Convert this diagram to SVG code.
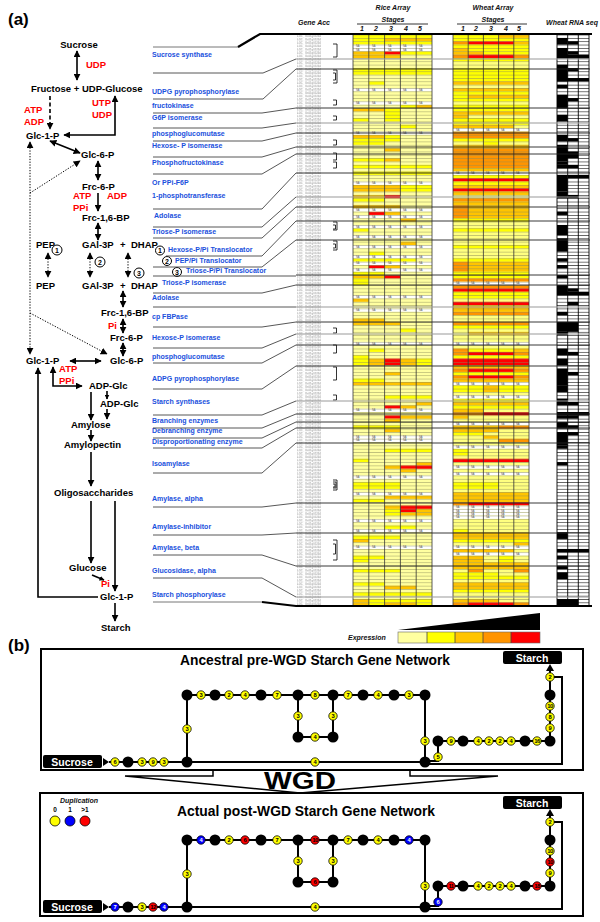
<svg xmlns="http://www.w3.org/2000/svg" width="600" height="922" viewBox="0 0 600 922">
<style>
text{font-family:"Liberation Sans",Arial,sans-serif;font-weight:bold}
.m{font-size:9.5px;fill:#000}
.rd{fill:#f00}
.gn{font-size:7px;fill:#1a50dd}
.hd{font-size:7px;font-style:italic;fill:#111}
.P{fill:#ffffa0}.Y{fill:#ffff00}.G{fill:#ffc400}.O{fill:#ff9400}.R{fill:#ff0000}.K{fill:#000}
.na{font-size:2.6px;fill:#555;font-weight:normal}
.bk{fill:#000}
.ny circle{fill:#ffff00;stroke:#000;stroke-width:.8}
.nb circle{fill:#0000ff;stroke:#000;stroke-width:.8}
.nr circle{fill:#ff0000;stroke:#000;stroke-width:.8}
.ny text,.nr text,.nb text{font-size:5.8px;text-anchor:middle;fill:#000}
.nb text{fill:#fff}
.box{fill:#000}
.bt{font-size:10.5px;fill:#fff;text-anchor:middle}
.ci{fill:#fff;stroke:#000;stroke-width:1}
.cn{font-size:7px;text-anchor:middle}
</style>
<defs>
<marker id="ah" viewBox="0 0 10 10" refX="9" refY="5" markerWidth="7" markerHeight="7" markerUnits="userSpaceOnUse" orient="auto-start-reverse"><path d="M0,0 L10,5 L0,10 z" fill="#000"/></marker>
<marker id="as" viewBox="0 0 10 10" refX="9" refY="5" markerWidth="5" markerHeight="5" markerUnits="userSpaceOnUse" orient="auto-start-reverse"><path d="M0,0 L10,5 L0,10 z" fill="#000"/></marker>
<pattern id="rowL" patternUnits="userSpaceOnUse" x="0" y="34.6" width="20" height="3.34"><rect width="20" height="0.45" fill="#8c8c5a"/></pattern>
<pattern id="rowK" patternUnits="userSpaceOnUse" x="0" y="34.6" width="20" height="3.34"><rect width="20" height="0.55" fill="#000"/></pattern>
<pattern id="acc" patternUnits="userSpaceOnUse" x="296" y="34.6" width="40" height="3.34"><text x="1" y="2.9" font-size="2.7" fill="#a8a8a8" font-weight="normal">LOC_</text><text x="9" y="2.9" font-size="2.7" fill="#a8a8a8" font-weight="normal">Os01g01234</text></pattern>
<g id="naR"><rect x="353" y="0" width="79" height="3.34" fill="#fff"/><text class="na" x="356" y="2.7">NA</text><text class="na" x="372" y="2.7">NA</text><text class="na" x="388" y="2.7">NA</text><text class="na" x="403" y="2.7">NA</text><text class="na" x="419" y="2.7">NA</text></g>
<g id="naW"><rect x="453" y="0" width="76" height="3.34" fill="#fff"/><text class="na" x="456" y="2.7">NA</text><text class="na" x="471" y="2.7">NA</text><text class="na" x="486" y="2.7">NA</text><text class="na" x="501" y="2.7">NA</text><text class="na" x="516" y="2.7">NA</text></g>
<g id="skel" fill="none" stroke="#000" stroke-width="2">
<path d="M109,762H187M187,762V695H425V762H187M298,695V737H333V695M425,761H438V741H550V668M425,764H562V677H550"/>
</g>
</defs>
<rect width="600" height="922" fill="#fff"/>

<text x="8" y="25" font-size="17">(a)</text>

<!-- pathway -->
<g id="pathway">
<g id="p-sucrose"><text class="m" x="79" y="48" text-anchor="middle">Sucrose</text></g>
<g id="p-udp1"><text class="m rd" x="86" y="68">UDP</text></g>
<g id="p-fru"><text class="m" x="31" y="92">Fructose + UDP-Glucose</text></g>
<g id="p-atp1"><text class="m rd" x="24" y="113">ATP</text><text class="m rd" x="24" y="125">ADP</text></g>
<g id="p-utp"><text class="m rd" x="92" y="106">UTP</text><text class="m rd" x="92" y="118">UDP</text></g>
<g id="p-g1p1"><text class="m" x="26" y="139">Glc-1-P</text></g>
<g id="p-g6p1"><text class="m" x="81" y="158">Glc-6-P</text></g>
<g id="p-f6p1"><text class="m" x="82" y="190">Frc-6-P</text></g>
<g id="p-atp2"><text class="m rd" x="73" y="199">ATP</text><text class="m rd" x="73" y="211">PPi</text><text class="m rd" x="107" y="199">ADP</text></g>
<g id="p-fbp1"><text class="m" x="82" y="221">Frc-1,6-BP</text></g>
<g id="p-row1"><text class="m" x="36" y="248">PEP</text><text class="m" x="82" y="248">GAl-3P</text><text class="m" x="120" y="248">+</text><text class="m" x="131" y="248">DHAP</text></g>
<g id="p-row2"><text class="m" x="36" y="289">PEP</text><text class="m" x="82" y="289">GAl-3P</text><text class="m" x="120" y="289">+</text><text class="m" x="131" y="289">DHAP</text></g>
<g id="p-c1"><circle class="ci" cx="57" cy="250" r="5"/><text class="cn" x="57" y="252.5">1</text></g>
<g id="p-c2"><circle class="ci" cx="100" cy="262" r="5"/><text class="cn" x="100" y="264.5">2</text></g>
<g id="p-c3"><circle class="ci" cx="139" cy="273" r="5"/><text class="cn" x="139" y="275.5">3</text></g>
<g id="p-fbp2"><text class="m" x="101" y="316">Frc-1,6-BP</text></g>
<g id="p-pi1"><text class="m rd" x="108" y="329">Pi</text></g>
<g id="p-f6p2"><text class="m" x="110" y="341">Frc-6-P</text></g>
<g id="p-g6p2"><text class="m" x="110" y="364">Glc-6-P</text></g>
<g id="p-g1p2"><text class="m" x="26" y="364">Glc-1-P</text></g>
<g id="p-atp3"><text class="m rd" x="59" y="372">ATP</text><text class="m rd" x="59" y="384">PPi</text></g>
<g id="p-adpg1"><text class="m" x="89" y="389">ADP-Glc</text></g>
<g id="p-adpg2"><text class="m" x="100" y="407">ADP-Glc</text></g>
<g id="p-amylose"><text class="m" x="71" y="428">Amylose</text></g>
<g id="p-amylopectin"><text class="m" x="64" y="448">Amylopectin</text></g>
<g id="p-oligo"><text class="m" x="54" y="496">Oligosaccharides</text></g>
<g id="p-glucose"><text class="m" x="69" y="571">Glucose</text></g>
<g id="p-pi2"><text class="m rd" x="101" y="587">Pi</text></g>
<g id="p-g1p3"><text class="m" x="100" y="600">Glc-1-P</text></g>
<g id="p-starch"><text class="m" x="101" y="631">Starch</text></g>
</g>

<g id="pathway-arrows" stroke="#000" stroke-width="1.6" fill="none">
<line x1="77" y1="51" x2="77" y2="80" marker-start="url(#ah)" marker-end="url(#ah)"/>
<line x1="50" y1="96" x2="50" y2="129" stroke-dasharray="4 2.5" marker-end="url(#ah)"/>
<path d="M64,135H115V96" marker-start="url(#ah)" marker-end="url(#ah)"/>
<line x1="50" y1="141" x2="80" y2="153" marker-start="url(#ah)" marker-end="url(#ah)"/>
<line x1="98" y1="161" x2="98" y2="180" marker-start="url(#ah)" marker-end="url(#ah)"/>
<line x1="98" y1="193" x2="98" y2="211" marker-end="url(#ah)"/>
<line x1="98" y1="223" x2="98" y2="240" marker-start="url(#ah)" marker-end="url(#ah)"/>
<g stroke-width="1" stroke-dasharray="1.3 1.5">
<line x1="30" y1="142" x2="30" y2="354" marker-start="url(#ah)" marker-end="url(#ah)"/>
<line x1="30" y1="193" x2="80" y2="161" marker-end="url(#ah)"/>
<line x1="30" y1="313" x2="107" y2="354" marker-end="url(#ah)"/>
<line x1="48" y1="253" x2="48" y2="277" marker-start="url(#ah)" marker-end="url(#ah)"/>
<line x1="90" y1="253" x2="90" y2="277" marker-start="url(#ah)" marker-end="url(#ah)"/>
<line x1="128" y1="253" x2="128" y2="277" marker-start="url(#ah)" marker-end="url(#ah)"/>
</g>
<line x1="123" y1="291" x2="123" y2="307" marker-start="url(#ah)" marker-end="url(#ah)"/>
<line x1="123" y1="319" x2="123" y2="333" marker-start="url(#ah)" marker-end="url(#ah)"/>
<line x1="123" y1="343" x2="123" y2="356" marker-start="url(#ah)" marker-end="url(#ah)"/>
<line x1="70" y1="361" x2="101" y2="361" marker-start="url(#ah)" marker-end="url(#ah)"/>
<path d="M53,367V386H82" marker-start="url(#ah)" marker-end="url(#ah)"/>
<line x1="91" y1="392" x2="91" y2="420" marker-end="url(#ah)"/>
<line x1="107" y1="391" x2="107" y2="399" marker-end="url(#as)"/>
<line x1="107" y1="409" x2="107" y2="419" marker-end="url(#ah)"/>
<line x1="91" y1="430" x2="91" y2="441" marker-end="url(#ah)"/>
<line x1="91" y1="452" x2="91" y2="486" marker-end="url(#ah)"/>
<line x1="91" y1="501" x2="91" y2="563" marker-end="url(#ah)"/>
<line x1="115" y1="501" x2="115" y2="591" marker-end="url(#ah)"/>
<line x1="92" y1="575" x2="104" y2="580" marker-end="url(#as)"/>
<path d="M98,597H38V368" marker-end="url(#ah)"/>
<line x1="115" y1="603" x2="115" y2="621" marker-end="url(#ah)"/>
</g>

<!-- headers -->
<g id="headers">
<text class="hd" x="314" y="25" text-anchor="middle" font-size="6.5">Gene Acc</text>
<text class="hd" x="393" y="10" text-anchor="middle">Rice Array</text>
<text class="hd" x="393" y="22" text-anchor="middle">Stages</text>
<line x1="357" y1="24" x2="428" y2="24" stroke="#000" stroke-width="0.8"/>
<text class="hd" x="362" y="31" text-anchor="middle">1</text><text class="hd" x="376" y="31" text-anchor="middle">2</text><text class="hd" x="391" y="31" text-anchor="middle">3</text><text class="hd" x="406" y="31" text-anchor="middle">4</text><text class="hd" x="420" y="31" text-anchor="middle">5</text>
<text class="hd" x="493" y="10" text-anchor="middle">Wheat Array</text>
<text class="hd" x="493" y="22" text-anchor="middle">Stages</text>
<line x1="457" y1="24" x2="527" y2="24" stroke="#000" stroke-width="0.8"/>
<text class="hd" x="463" y="31" text-anchor="middle">1</text><text class="hd" x="476" y="31" text-anchor="middle">2</text><text class="hd" x="491" y="31" text-anchor="middle">3</text><text class="hd" x="506" y="31" text-anchor="middle">4</text><text class="hd" x="519" y="31" text-anchor="middle">5</text>
<text class="hd" x="572" y="25" text-anchor="middle">Wheat RNA seq</text>
</g>

<!-- gene labels -->
<g id="genes">
<text class="gn" x="152" y="57">Sucrose synthase</text>
<text class="gn" x="152" y="94">UDPG pyrophosphorylase</text>
<text class="gn" x="152" y="108">fructokinase</text>
<text class="gn" x="152" y="120">G6P isomerase</text>
<text class="gn" x="152" y="136">phosphoglucomutase</text>
<text class="gn" x="152" y="148">Hexose- P isomerase</text>
<text class="gn" x="152" y="165">Phosphofructokinase</text>
<text class="gn" x="152" y="185">Or PPi-F6P</text>
<text class="gn" x="152" y="198">1-phosphotransferase</text>
<text class="gn" x="154" y="218">Adolase</text>
<text class="gn" x="152" y="234">Triose-P isomerase</text>
<g id="g-t1"><circle class="ci" cx="160" cy="250.5" r="4.5"/><text class="cn" x="160" y="253">1</text><text class="gn" x="168" y="252">Hexose-P/Pi Translocator</text></g>
<g id="g-t2"><circle class="ci" cx="167" cy="261" r="4.5"/><text class="cn" x="167" y="263.5">2</text><text class="gn" x="175" y="263">PEP/Pi Translocator</text></g>
<g id="g-t3"><circle class="ci" cx="177" cy="272" r="4.5"/><text class="cn" x="177" y="274.5">3</text><text class="gn" x="186" y="273">Triose-P/Pi Translocator</text></g>
<text class="gn" x="162" y="285">Triose-P isomerase</text>
<text class="gn" x="152" y="300">Adolase</text>
<text class="gn" x="152" y="319">cp FBPase</text>
<text class="gn" x="152" y="340">Hexose-P isomerase</text>
<text class="gn" x="152" y="359">phosphoglucomutase</text>
<text class="gn" x="152" y="381">ADPG pyrophosphorylase</text>
<text class="gn" x="152" y="404">Starch synthases</text>
<text class="gn" x="152" y="423">Branching enzymes</text>
<text class="gn" x="152" y="433">Debranching enzyme</text>
<text class="gn" x="152" y="444">Disproportionating enzyme</text>
<text class="gn" x="152" y="466">Isoamylase</text>
<text class="gn" x="152" y="501">Amylase, alpha</text>
<text class="gn" x="152" y="529">Amylase-inhibitor</text>
<text class="gn" x="152" y="550">Amylase, beta</text>
<text class="gn" x="152" y="573">Glucosidase, alpha</text>
<text class="gn" x="152" y="597">Starch phosphorylase</text>
</g>

<!-- heatmap -->
<g id="heatmap">
<rect x="296" y="34.6" width="36" height="571" fill="url(#acc)"/>
<g transform="translate(0,34.6) scale(1,3.34)">
<rect class="P" x="353" y="0" width="79" height="171"/>
<rect fill="#ffff80" x="453" y="0" width="76" height="171"/>
<rect fill="#fff" x="557" y="0" width="32" height="171"/>
<!-- rice -->
<rect class="Y" x="353" y="0" width="79" height="1"/>
<rect class="Y" x="353" y="1" width="31.6" height="1"/><rect class="G" x="384.6" y="1" width="47.4" height="1"/>
<rect class="Y" x="353" y="2" width="79" height="1"/>
<rect class="G" x="353" y="5" width="31.6" height="1"/><rect class="R" x="384.6" y="5" width="15.8" height="1"/><rect class="Y" x="400.4" y="5" width="31.6" height="1"/>
<rect class="G" x="353" y="6" width="47.4" height="1"/>
<rect class="Y" x="353" y="10" width="79" height="2"/>
<rect class="Y" x="368.8" y="14" width="15.8" height="1"/>
<rect class="Y" x="400.4" y="21" width="15.8" height="1"/><rect class="G" x="416.2" y="21" width="15.8" height="1"/>
<rect class="G" x="353" y="22" width="31.6" height="1"/><rect class="Y" x="384.6" y="22" width="15.8" height="4"/>
<rect class="Y" x="353" y="25" width="15.8" height="1"/>
<rect class="Y" x="400.4" y="27" width="15.8" height="1"/>
<rect class="G" x="353" y="30" width="31.6" height="1"/><rect class="Y" x="384.6" y="30" width="15.8" height="1"/>
<rect class="Y" x="353" y="31" width="47.4" height="1"/>
<rect class="Y" x="353" y="32" width="31.6" height="1"/>
<rect class="G" x="384.6" y="34" width="15.8" height="1"/>
<rect class="Y" x="353" y="37" width="31.6" height="1"/><rect class="G" x="384.6" y="37" width="15.8" height="1"/>
<rect class="Y" x="353" y="39" width="79" height="1"/>
<rect class="Y" x="353" y="41" width="79" height="1"/>
<rect class="G" x="353" y="45" width="47.4" height="2"/><rect class="Y" x="400.4" y="45" width="31.6" height="2"/>
<rect class="G" x="353" y="48" width="31.6" height="1"/><rect class="R" x="384.6" y="48" width="15.8" height="1"/>
<rect class="Y" x="353" y="49" width="31.6" height="1"/>
<rect class="G" x="353" y="51" width="47.4" height="1"/>
<rect class="R" x="368.8" y="53" width="15.8" height="1"/><rect class="G" x="384.6" y="53" width="15.8" height="1"/>
<rect class="G" x="400.4" y="55" width="15.8" height="1"/>
<rect class="Y" x="353" y="58" width="15.8" height="1"/>
<rect class="G" x="400.4" y="62" width="15.8" height="1"/>
<rect class="Y" x="368.8" y="65" width="15.8" height="1"/>
<rect class="Y" x="353" y="67" width="63.2" height="1"/>
<rect class="R" x="368.8" y="69" width="15.8" height="1"/><rect class="G" x="384.6" y="69" width="15.8" height="1"/>
<rect class="Y" x="353" y="71" width="31.6" height="1"/>
<rect class="G" x="353" y="72" width="31.6" height="1"/><rect class="R" x="384.6" y="72" width="15.8" height="1"/>
<rect class="Y" x="353" y="73" width="15.8" height="2"/>
<rect class="G" x="353" y="79" width="15.8" height="1"/>
<rect class="G" x="353" y="85" width="31.6" height="1"/>
<rect class="G" x="353" y="86" width="47.4" height="1"/>
<rect class="Y" x="400.4" y="88" width="15.8" height="1"/>
<rect class="Y" x="368.8" y="94" width="15.8" height="1"/>
<rect class="Y" x="353" y="96" width="15.8" height="3"/><rect class="G" x="368.8" y="97" width="15.8" height="2"/><rect class="R" x="384.6" y="97" width="15.8" height="2"/><rect class="G" x="400.4" y="97" width="15.8" height="2"/><rect class="Y" x="416.2" y="97" width="15.8" height="2"/>
<rect class="G" x="384.6" y="101" width="15.8" height="1"/>
<rect class="Y" x="353" y="103" width="31.6" height="1"/>
<rect class="G" x="353" y="104" width="79" height="1"/>
<rect class="Y" x="384.6" y="108" width="47.4" height="1"/>
<rect class="G" x="416.2" y="110" width="15.8" height="1"/>
<rect class="R" x="384.6" y="111" width="15.8" height="1"/><rect class="G" x="400.4" y="111" width="15.8" height="1"/>
<rect class="R" x="384.6" y="114" width="15.8" height="1"/><rect class="G" x="400.4" y="114" width="31.6" height="1"/>
<rect class="G" x="384.6" y="115" width="15.8" height="1"/>
<rect class="Y" x="353" y="117" width="47.4" height="1"/>
<rect class="G" x="384.6" y="118" width="15.8" height="1"/>
<rect class="Y" x="384.6" y="124" width="47.4" height="1"/>
<rect class="Y" x="353" y="127" width="15.8" height="1"/>
<rect class="G" x="416.2" y="128" width="15.8" height="1"/>
<rect class="G" x="384.6" y="129" width="15.8" height="1"/><rect class="R" x="400.4" y="129" width="31.6" height="1"/>
<rect class="G" x="400.4" y="130" width="15.8" height="1"/>
<rect class="Y" x="353" y="134" width="47.4" height="2"/>
<rect class="G" x="384.6" y="138" width="47.4" height="1"/>
<rect class="Y" x="353" y="139" width="31.6" height="1"/>
<rect class="G" x="384.6" y="141" width="15.8" height="1"/><rect class="R" x="400.4" y="141" width="31.6" height="1"/>
<rect class="Y" x="384.6" y="142" width="15.8" height="1"/><rect class="R" x="400.4" y="142" width="15.8" height="1"/><rect class="G" x="416.2" y="142" width="15.8" height="1"/>
<rect class="Y" x="384.6" y="143" width="15.8" height="1"/><rect class="G" x="400.4" y="143" width="31.6" height="1"/>
<rect class="Y" x="384.6" y="147" width="31.6" height="1"/>
<rect class="Y" x="353" y="150" width="47.4" height="1"/>
<rect class="G" x="353" y="151" width="15.8" height="1"/>
<rect class="Y" x="353" y="156" width="31.6" height="1"/>
<rect class="Y" x="353" y="157" width="15.8" height="1"/>
<rect class="Y" x="353" y="160" width="47.4" height="1"/>
<rect class="Y" x="353" y="164" width="31.6" height="1"/>
<rect class="G" x="384.6" y="165" width="31.6" height="1"/>
<rect class="Y" x="353" y="167" width="79" height="1"/>
<rect class="G" x="353" y="169" width="15.8" height="1"/><rect class="Y" x="368.8" y="169" width="63.2" height="1"/>
<rect class="G" x="353" y="170" width="15.8" height="1"/><rect class="Y" x="368.8" y="170" width="15.8" height="1"/><rect class="G" x="384.6" y="170" width="31.6" height="1"/><rect class="Y" x="416.2" y="170" width="15.8" height="1"/>
<!-- wheat -->
<rect class="Y" x="453" y="0" width="45.6" height="1"/><rect class="G" x="498.6" y="0" width="30.4" height="1"/>
<rect class="Y" x="453" y="1" width="76" height="1"/>
<rect class="O" x="453" y="2" width="15.2" height="1"/><rect class="R" x="468.2" y="2" width="45.6" height="1"/><rect class="G" x="513.8" y="2" width="15.2" height="1"/>
<rect class="Y" x="453" y="3" width="76" height="1"/>
<rect class="G" x="453" y="4" width="15.2" height="1"/><rect class="Y" x="468.2" y="4" width="60.8" height="1"/>
<rect class="G" x="453" y="5" width="30.4" height="1"/><rect class="Y" x="483.4" y="5" width="45.6" height="1"/>
<rect class="O" x="453" y="6" width="15.2" height="1"/><rect class="R" x="468.2" y="6" width="45.6" height="1"/><rect class="O" x="513.8" y="6" width="15.2" height="1"/>
<rect class="Y" x="453" y="7" width="76" height="1"/>
<rect class="Y" x="453" y="10" width="76" height="4"/>
<rect class="G" x="453" y="14" width="76" height="1"/>
<rect class="G" x="453" y="16" width="76" height="1"/>
<rect class="Y" x="453" y="17" width="76" height="1"/>
<rect class="Y" x="453" y="18" width="15.2" height="1"/><rect class="G" x="468.2" y="18" width="60.8" height="1"/>
<rect class="Y" x="453" y="19" width="76" height="1"/>
<rect class="Y" x="453" y="21" width="76" height="2"/>
<rect class="G" x="453" y="23" width="76" height="1"/>
<rect class="G" x="453" y="24" width="15.2" height="1"/>
<rect class="Y" x="453" y="25" width="76" height="2"/>
<rect class="G" x="453" y="27" width="60.8" height="1"/>
<rect class="O" x="453" y="29" width="76" height="2"/>
<rect class="Y" x="453" y="31" width="76" height="1"/>
<rect class="Y" x="483.4" y="32" width="15.2" height="1"/>
<rect class="G" x="453" y="33" width="76" height="1"/>
<rect class="O" x="453" y="34" width="76" height="6"/>
<rect class="G" x="453" y="40" width="76" height="1"/>
<rect class="Y" x="453" y="42" width="76" height="1"/>
<rect class="R" x="453" y="43" width="76" height="1"/>
<rect class="Y" x="453" y="44" width="76" height="1"/>
<rect class="G" x="453" y="45" width="76" height="1"/>
<rect class="R" x="453" y="46" width="76" height="1"/>
<rect class="G" x="453" y="47" width="76" height="1"/>
<rect class="O" x="453" y="49" width="76" height="1"/>
<rect class="G" x="453" y="50" width="76" height="1"/>
<rect class="O" x="453" y="51" width="15.2" height="4"/><rect class="G" x="468.2" y="51" width="60.8" height="4"/>
<rect class="Y" x="453" y="55" width="76" height="1"/>
<rect class="Y" x="453" y="58" width="76" height="1"/>
<rect class="Y" x="453" y="63" width="76" height="1"/>
<rect class="Y" x="453" y="67" width="76" height="1"/>
<rect class="O" x="453" y="68" width="15.2" height="3"/><rect class="G" x="468.2" y="68" width="60.8" height="3"/>
<rect class="Y" x="453" y="71" width="76" height="2"/>
<rect class="O" x="453" y="73" width="76" height="1"/>
<rect class="O" x="453" y="75" width="76" height="1"/>
<rect class="R" x="453" y="76" width="76" height="1"/>
<rect class="Y" x="453" y="77" width="76" height="2"/>
<rect class="R" x="453" y="80" width="76" height="1"/>
<rect class="G" x="453" y="81" width="76" height="2"/>
<rect class="O" x="453" y="83" width="76" height="1"/>
<rect class="O" x="453" y="86" width="76" height="1"/>
<rect class="Y" x="453" y="87" width="76" height="1"/>
<rect class="G" x="468.2" y="89" width="60.8" height="1"/>
<rect class="O" x="453" y="94" width="15.2" height="1"/><rect class="Y" x="468.2" y="94" width="45.6" height="1"/><rect class="G" x="513.8" y="94" width="15.2" height="1"/>
<rect class="O" x="453" y="95" width="15.2" height="1"/><rect class="R" x="468.2" y="95" width="45.6" height="1"/><rect class="O" x="513.8" y="95" width="15.2" height="1"/>
<rect class="Y" x="453" y="96" width="76" height="1"/>
<rect class="R" x="453" y="97" width="76" height="2"/>
<rect class="G" x="453" y="99" width="76" height="1"/>
<rect class="O" x="453" y="100" width="15.2" height="1"/><rect class="R" x="468.2" y="100" width="45.6" height="1"/><rect class="O" x="513.8" y="100" width="15.2" height="1"/>
<rect class="Y" x="453" y="101" width="76" height="1"/>
<rect class="O" x="453" y="102" width="15.2" height="1"/><rect class="R" x="468.2" y="102" width="45.6" height="1"/><rect class="O" x="513.8" y="102" width="15.2" height="1"/>
<rect class="G" x="453" y="103" width="76" height="1"/>
<rect class="Y" x="453" y="105" width="76" height="2"/><rect class="G" x="483.4" y="105" width="15.2" height="2"/>
<rect class="Y" x="453" y="109" width="76" height="1"/>
<rect class="G" x="453" y="110" width="76" height="1"/>
<rect class="Y" x="453" y="111" width="76" height="1"/>
<rect class="G" x="453" y="112" width="30.4" height="1"/>
<rect class="O" x="453" y="113" width="30.4" height="1"/><rect class="R" x="483.4" y="113" width="45.6" height="1"/>
<rect class="G" x="453" y="114" width="15.2" height="1"/>
<rect class="G" x="453" y="117" width="45.6" height="2"/><rect class="O" x="498.6" y="117" width="30.4" height="1"/>
<rect class="Y" x="453" y="119" width="30.4" height="1"/>
<rect class="G" x="483.4" y="120" width="15.2" height="1"/>
<rect class="O" x="498.6" y="121" width="30.4" height="1"/>
<rect class="Y" x="453" y="124" width="15.2" height="2"/>
<rect class="R" x="453" y="127" width="76" height="1"/>
<rect class="Y" x="453" y="134" width="45.6" height="2"/>
<rect class="G" x="453" y="137" width="76" height="3"/>
<rect class="O" x="453" y="140" width="15.2" height="1"/><rect class="R" x="468.2" y="140" width="60.8" height="1"/>
<rect class="Y" x="453" y="148" width="15.2" height="1"/>
<rect class="G" x="453" y="149" width="76" height="2"/>
<rect class="Y" x="453" y="151" width="76" height="1"/>
<rect class="G" x="513.8" y="152" width="15.2" height="1"/>
<rect class="G" x="453" y="154" width="60.8" height="1"/>
<rect class="G" x="453" y="156" width="30.4" height="2"/><rect class="Y" x="498.6" y="156" width="15.2" height="2"/>
<rect class="G" x="453" y="158" width="76" height="2"/>
<rect class="O" x="468.2" y="160" width="15.2" height="1"/><rect class="O" x="513.8" y="160" width="15.2" height="1"/>
<rect class="Y" x="453" y="161" width="45.6" height="1"/>
<rect class="Y" x="453" y="162" width="76" height="1"/>
<rect class="G" x="453" y="164" width="76" height="2"/>
<rect class="Y" x="453" y="166" width="76" height="1"/>
<rect class="G" x="453" y="169" width="45.6" height="1"/>
<rect class="O" x="453" y="170" width="15.2" height="1"/><rect class="R" x="468.2" y="170" width="45.6" height="1"/><rect class="O" x="513.8" y="170" width="15.2" height="1"/>
<!-- rna seq -->
<g class="K">
<rect x="557" y="1" width="10.7" height="2"/><rect x="567.7" y="2" width="10.6" height="1"/>
<rect x="557" y="4" width="10.7" height="3"/><rect x="567.7" y="5" width="10.6" height="1"/><rect x="557" y="6" width="32" height="1"/>
<rect x="557" y="9" width="10.7" height="5"/><rect x="567.7" y="10" width="10.6" height="1"/><rect x="557" y="13" width="32" height="1"/>
<rect x="557" y="15" width="10.7" height="1"/>
<rect x="557" y="18" width="10.7" height="4"/><rect x="567.7" y="19" width="10.6" height="1"/>
<rect x="557" y="24" width="10.7" height="2"/>
<rect x="557" y="30" width="10.7" height="2"/><rect x="567.7" y="31" width="10.6" height="1"/>
<rect x="557" y="33" width="10.7" height="5"/><rect x="557" y="35" width="21.3" height="2"/>
<rect x="557" y="38" width="10.7" height="1"/><rect x="557" y="39" width="21.3" height="1"/>
<rect x="557" y="42" width="10.7" height="5"/><rect x="567.7" y="42" width="21.3" height="1"/>
<rect x="557" y="47" width="10.7" height="2"/><rect x="567.7" y="48" width="10.6" height="1"/>
<rect x="557" y="53" width="10.7" height="1"/>
<rect x="557" y="57" width="10.7" height="3"/>
<rect x="557" y="61" width="10.7" height="4"/>
<rect x="557" y="67" width="10.7" height="1"/>
<rect x="557" y="69" width="10.7" height="1"/>
<rect x="557" y="72" width="10.7" height="1"/>
<rect x="557" y="75" width="10.7" height="3"/><rect x="567.7" y="76" width="10.6" height="1"/><rect x="557" y="77" width="32" height="1"/>
<rect x="567.7" y="80" width="10.6" height="1"/>
<rect x="557" y="83" width="10.7" height="1"/>
<rect x="557" y="86" width="21.3" height="3"/>
<rect x="557" y="89" width="10.7" height="1"/>
<rect x="557" y="94" width="10.7" height="2"/><rect x="567.7" y="95" width="10.6" height="1"/>
<rect x="557" y="97" width="10.7" height="2"/>
<rect x="557" y="100" width="10.7" height="5"/><rect x="567.7" y="101" width="10.6" height="1"/>
<rect x="557" y="105" width="10.7" height="2"/>
<rect x="557" y="109" width="10.7" height="2"/><rect x="567.7" y="110" width="10.6" height="1"/>
<rect x="557" y="113" width="32" height="1"/><rect x="557" y="114" width="21.3" height="1"/>
<rect x="557" y="116" width="10.7" height="2"/><rect x="567.7" y="117" width="10.6" height="1"/>
<rect x="557" y="119" width="10.7" height="4"/><rect x="567.7" y="119" width="10.6" height="1"/>
<rect x="557" y="123" width="10.7" height="1"/>
<rect x="557" y="128" width="10.7" height="1"/>
<rect x="557" y="149" width="10.7" height="2"/>
<rect x="557" y="154" width="32" height="1"/>
<rect x="557" y="156" width="10.7" height="1"/>
<rect x="557" y="159" width="10.7" height="1"/>
<rect x="557" y="161" width="10.7" height="2"/>
<rect x="557" y="169" width="21.3" height="2"/>
</g>
</g>
<!-- NA rows -->
<use href="#naR" y="44.62"/><use href="#naR" y="47.96"/><use href="#naR" y="88.04"/><use href="#naR" y="101.4"/><use href="#naR" y="131.46"/><use href="#naR" y="181.56"/><use href="#naR" y="208.28"/><use href="#naR" y="214.96"/><use href="#naR" y="224.98"/><use href="#naR" y="235"/><use href="#naR" y="245.02"/><use href="#naR" y="255.04"/><use href="#naR" y="261.72"/><use href="#naR" y="268.4"/><use href="#naR" y="295.12"/><use href="#naR" y="308.48"/><use href="#naR" y="341.88"/><use href="#naR" y="408.68"/><use href="#naR" y="435.4"/><use href="#naR" y="438.74"/><use href="#naR" y="475.48"/><use href="#naR" y="492.18"/><use href="#naR" y="518.9"/><use href="#naR" y="528.92"/><use href="#naR" y="545.62"/>
<use href="#naW" y="128.12"/><use href="#naW" y="171.54"/><use href="#naW" y="281.76"/><use href="#naW" y="341.88"/><use href="#naW" y="381.96"/><use href="#naW" y="395.32"/><use href="#naW" y="422.04"/><use href="#naW" y="445.42"/><use href="#naW" y="465.46"/><use href="#naW" y="472.14"/><use href="#naW" y="505.54"/><use href="#naW" y="508.88"/><use href="#naW" y="512.22"/><use href="#naW" y="515.56"/><use href="#naW" y="545.62"/><use href="#naW" y="552.3"/>
<!-- row lines -->
<rect x="353" y="34.6" width="79" height="571" fill="url(#rowL)"/>
<rect x="453" y="34.6" width="76" height="571" fill="url(#rowL)"/>
<rect x="557" y="34.6" width="32" height="571" fill="url(#rowK)"/>
<!-- column lines -->
<path d="M353,34V606M368.8,34V606M384.6,34V606M400.4,34V606M416.2,34V606M432,34V606M453,34V606M468.2,34V606M483.4,34V606M498.6,34V606M513.8,34V606M529,34V606" stroke="#333" stroke-width="0.8"/>
<path d="M557,34V606M567.7,34V606M578.3,34V606M589,34V606" stroke="#000" stroke-width="0.9"/>
<!-- brackets -->
<path fill="none" stroke="#000" stroke-width="0.8" d="M333,44h4v13h-4M333,70h4v13h-4M333,73h2.5v7h-2.5M333,100h3.5v5h-3.5M333,116h3.5v4h-3.5M333,140h3.5v5h-3.5M333,153h3.5v7h-3.5M333,162h3.5v6h-3.5M333,222h4v8h-4M333,225h2.5v4h-2.5M333,241h4v9h-4M333,244h2.5v4h-2.5M333,328h3.5v5h-3.5M333,345h3.5v8h-3.5M333,367h3.5v13h-3.5M333,395h3.5v5h-3.5M333,480h4v10h-4M333,482h3v6h-3M333,484h2v3h-2M333,540h4v20h-4M333,544h2.5v10h-2.5"/>
</g>

<!-- separators and leaders -->
<g id="connectors" fill="none">
<path stroke="#222" stroke-width="0.9" d="M296,69H590M296,108H590M296,133H590M296,147H590M296,154H590M296,173H590M296,207H590M296,221H590M296,240H590M296,275H590M296,285H590M296,322H590M296,345H590M296,366H590M296,414H590M296,422H590M296,428H590M296,443H590M296,503H590M296,533H590M296,566H590"/>
<path stroke="#9a9a9a" stroke-width="1.2" d="M296,59H590M296,123H590M296,197H590M296,307H590M296,334H590M296,401H590M296,597H590"/>
<path stroke="#444" stroke-width="0.9" d="M153,73H263L296,59M153,99H263L296,69M153,113H262L296,108M153,128H262L296,123M153,141H262L296,133M153,157H262L296,147M153,174H262L296,154M153,209H262L296,173M153,227H262L296,197M153,238H262L296,207M166,256H262L296,221M153,267H262L296,240M153,276H296M153,293H262L296,285M153,307H296M153,327H262L296,322M153,348H262L296,334M153,363H262L296,345M153,389H262L296,366M153,415H262L296,401M153,428H262L296,414M153,438H262L296,422M153,448H262L296,428M153,473H262L296,443M153,507H262L296,503M153,535H262L296,533M153,555H262L296,566M153,578H262L296,597"/>
<path stroke="#777" stroke-width="1" d="M153,47H238M153,602H262"/>
<path stroke="#000" stroke-width="2.2" d="M238,47L260,34H592M262,602L296,606H592"/>
</g>

<!-- expression legend -->
<g id="expr-legend">
<polygon points="398,630 540,613 540,630" fill="#000"/>
<rect class="P" x="398" y="632" width="29" height="11"/>
<rect class="Y" x="427" y="632" width="28" height="11"/>
<rect class="G" x="455" y="632" width="28" height="11"/>
<rect class="O" x="483" y="632" width="28" height="11"/>
<rect class="R" x="511" y="632" width="29" height="11"/>
<rect x="398" y="632" width="142" height="11" fill="none" stroke="#666" stroke-width="0.6"/>
<path d="M427,632V643M455,632V643M483,632V643M511,632V643" stroke="#444" stroke-width="0.8"/>
<text class="hd" x="348" y="640">Expression</text>
</g>

<text x="8" y="651" font-size="17">(b)</text>

<!-- boxes -->
<g id="frames" fill="none" stroke="#000">
<rect x="41" y="649" width="542" height="121" stroke-width="2"/>
<rect x="40" y="793" width="543" height="123" stroke-width="2"/>
<path d="M213,770V776H125L300,793L498,776H410V770" stroke-width="1.5"/>
</g>
<g id="wgd"><text x="300" y="789" font-size="23" text-anchor="middle" textLength="72" lengthAdjust="spacingAndGlyphs">WGD</text></g>
<g id="title1"><text x="180" y="665" font-size="15" textLength="270" lengthAdjust="spacingAndGlyphs">Ancestral pre-WGD Starch Gene Network</text></g>
<g id="title2"><text x="177" y="816" font-size="15" textLength="258" lengthAdjust="spacingAndGlyphs">Actual post-WGD Starch Gene Network</text></g>

<g id="dup-legend">
<text class="hd" x="60" y="803" font-size="6.5">Duplication</text>
<text x="55" y="812" font-size="6.5" text-anchor="middle">0</text><text x="70" y="812" font-size="6.5" text-anchor="middle">1</text><text x="85" y="812" font-size="6.5" text-anchor="middle">&gt;1</text>
<circle cx="55" cy="821" r="5" fill="#ffff00" stroke="#000" stroke-width="0.8"/>
<circle cx="70" cy="821" r="5" fill="#0000ff" stroke="#000" stroke-width="0.8"/>
<circle cx="85" cy="821" r="5" fill="#ff0000" stroke="#000" stroke-width="0.8"/>
</g>

<!-- network skeletons -->
<g id="net-edges">
<use href="#skel"/>
<use href="#skel" transform="translate(0,145)"/>
</g>

<!-- network 1 -->
<g id="net1">
<g id="n1-sucrose"><rect class="box" x="43" y="755" width="59" height="13" rx="2"/><text class="bt" x="72" y="765.5">Sucrose</text><polygon points="103,758 109,762 103,766" fill="#000"/></g>
<g id="n1-starch"><rect class="box" x="503" y="651" width="59" height="13" rx="2"/><text class="bt" x="532" y="661.5">Starch</text><polygon points="546,671 550,664 554,671" fill="#000"/></g>
<g id="n1-black" class="bk">
<circle cx="128" cy="762" r="5.5"/><circle cx="187" cy="762" r="5.5"/><circle cx="187" cy="695" r="5.5"/><circle cx="215" cy="695" r="5.5"/><circle cx="261" cy="695" r="5.5"/><circle cx="298" cy="695" r="5.5"/><circle cx="333" cy="695" r="5.5"/><circle cx="363" cy="695" r="5.5"/><circle cx="394" cy="695" r="5.5"/><circle cx="425" cy="695" r="5.5"/><circle cx="298" cy="737" r="5.5"/><circle cx="333" cy="737" r="5.5"/><circle cx="425" cy="762" r="5.5"/><circle cx="438" cy="741" r="5.5"/><circle cx="463" cy="741" r="5.5"/><circle cx="525" cy="741" r="5.5"/><circle cx="550" cy="741" r="5.5"/><circle cx="550" cy="695" r="5.5"/>
</g>
<g class="ny" id="n1a"><circle cx="115" cy="762" r="4.2"/><text x="115" y="764">6</text></g>
<g class="ny" id="n1b"><circle cx="142" cy="762" r="4.2"/><text x="142" y="764">3</text></g>
<g class="ny" id="n1c"><circle cx="153" cy="762" r="4.2"/><text x="153" y="764">9</text></g>
<g class="ny" id="n1d"><circle cx="164" cy="762" r="4.2"/><text x="164" y="764">3</text></g>
<g class="ny" id="n1e"><circle cx="187" cy="729" r="4.2"/><text x="187" y="731">3</text></g>
<g class="ny" id="n1f"><circle cx="201" cy="695" r="4.2"/><text x="201" y="697">3</text></g>
<g class="ny" id="n1g"><circle cx="229" cy="695" r="4.2"/><text x="229" y="697">2</text></g>
<g class="ny" id="n1h"><circle cx="245" cy="695" r="4.2"/><text x="245" y="697">4</text></g>
<g class="ny" id="n1i"><circle cx="277" cy="695" r="4.2"/><text x="277" y="697">7</text></g>
<g class="ny" id="n1j"><circle cx="315" cy="695" r="4.2"/><text x="315" y="697">8</text></g>
<g class="ny" id="n1k"><circle cx="348" cy="695" r="4.2"/><text x="348" y="697">7</text></g>
<g class="ny" id="n1l"><circle cx="378" cy="695" r="4.2"/><text x="378" y="697">4</text></g>
<g class="ny" id="n1m"><circle cx="409" cy="695" r="4.2"/><text x="409" y="697">3</text></g>
<g class="ny" id="n1n"><circle cx="298" cy="716" r="4.2"/><text x="298" y="718">3</text></g>
<g class="ny" id="n1o"><circle cx="333" cy="716" r="4.2"/><text x="333" y="718">3</text></g>
<g class="ny" id="n1p"><circle cx="315" cy="737" r="4.2"/><text x="315" y="739">4</text></g>
<g class="ny" id="n1q"><circle cx="425" cy="741" r="4.2"/><text x="425" y="743">3</text></g>
<g class="ny" id="n1r"><circle cx="315" cy="762" r="4.2"/><text x="315" y="764">4</text></g>
<g class="ny" id="n1s"><circle cx="438" cy="757" r="4.2"/><text x="438" y="759">5</text></g>
<g class="ny" id="n1t"><circle cx="451" cy="741" r="4.2"/><text x="451" y="743">9</text></g>
<g class="ny" id="n1u"><circle cx="478" cy="741" r="4.2"/><text x="478" y="743">4</text></g>
<g class="ny" id="n1v"><circle cx="489" cy="741" r="4.2"/><text x="489" y="743">2</text></g>
<g class="ny" id="n1w"><circle cx="500" cy="741" r="4.2"/><text x="500" y="743">2</text></g>
<g class="ny" id="n1x"><circle cx="511" cy="741" r="4.2"/><text x="511" y="743">4</text></g>
<g class="ny" id="n1y"><circle cx="537" cy="741" r="4.2"/><text x="537" y="743" letter-spacing="-0.5">16</text></g>
<g class="ny" id="n1z"><circle cx="550" cy="728" r="4.2"/><text x="550" y="730">9</text></g>
<g class="ny" id="n1aa"><circle cx="550" cy="717" r="4.2"/><text x="550" y="719">8</text></g>
<g class="ny" id="n1ab"><circle cx="550" cy="706" r="4.2"/><text x="550" y="708" letter-spacing="-0.5">10</text></g>
<g class="ny" id="n1ac"><circle cx="550" cy="677" r="4.2"/><text x="550" y="679">2</text></g>
</g>

<!-- network 2 -->
<g id="net2">
<g id="n2-sucrose"><rect class="box" x="43" y="900" width="59" height="13" rx="2"/><text class="bt" x="72" y="910.5">Sucrose</text><polygon points="103,903 109,907 103,911" fill="#000"/></g>
<g id="n2-starch"><rect class="box" x="503" y="796" width="59" height="13" rx="2"/><text class="bt" x="532" y="806.5">Starch</text><polygon points="546,816 550,809 554,816" fill="#000"/></g>
<g id="n2-black" class="bk">
<circle cx="128" cy="907" r="5.5"/><circle cx="187" cy="907" r="5.5"/><circle cx="187" cy="840" r="5.5"/><circle cx="215" cy="840" r="5.5"/><circle cx="261" cy="840" r="5.5"/><circle cx="298" cy="840" r="5.5"/><circle cx="333" cy="840" r="5.5"/><circle cx="363" cy="840" r="5.5"/><circle cx="394" cy="840" r="5.5"/><circle cx="425" cy="840" r="5.5"/><circle cx="298" cy="882" r="5.5"/><circle cx="333" cy="882" r="5.5"/><circle cx="425" cy="907" r="5.5"/><circle cx="438" cy="886" r="5.5"/><circle cx="463" cy="886" r="5.5"/><circle cx="525" cy="886" r="5.5"/><circle cx="550" cy="886" r="5.5"/><circle cx="550" cy="840" r="5.5"/>
</g>
<g class="nb" id="n2a"><circle cx="115" cy="907" r="4.2"/><text x="115" y="909">7</text></g>
<g class="ny" id="n2b"><circle cx="142" cy="907" r="4.2"/><text x="142" y="909">3</text></g>
<g class="nr" id="n2c"><circle cx="153" cy="907" r="4.2"/><text x="153" y="909" letter-spacing="-0.5">12</text></g>
<g class="nb" id="n2d"><circle cx="164" cy="907" r="4.2"/><text x="164" y="909">4</text></g>
<g class="ny" id="n2e"><circle cx="187" cy="874" r="4.2"/><text x="187" y="876">3</text></g>
<g class="nb" id="n2f"><circle cx="201" cy="840" r="4.2"/><text x="201" y="842">4</text></g>
<g class="ny" id="n2g"><circle cx="229" cy="840" r="4.2"/><text x="229" y="842">2</text></g>
<g class="nr" id="n2h"><circle cx="245" cy="840" r="4.2"/><text x="245" y="842">6</text></g>
<g class="ny" id="n2i"><circle cx="277" cy="840" r="4.2"/><text x="277" y="842">7</text></g>
<g class="nr" id="n2j"><circle cx="315" cy="840" r="4.2"/><text x="315" y="842" letter-spacing="-0.5">10</text></g>
<g class="ny" id="n2k"><circle cx="348" cy="840" r="4.2"/><text x="348" y="842">7</text></g>
<g class="ny" id="n2l"><circle cx="378" cy="840" r="4.2"/><text x="378" y="842">4</text></g>
<g class="nb" id="n2m"><circle cx="409" cy="840" r="4.2"/><text x="409" y="842">4</text></g>
<g class="ny" id="n2n"><circle cx="298" cy="861" r="4.2"/><text x="298" y="863">3</text></g>
<g class="ny" id="n2o"><circle cx="333" cy="861" r="4.2"/><text x="333" y="863">3</text></g>
<g class="nr" id="n2p"><circle cx="315" cy="882" r="4.2"/><text x="315" y="884">6</text></g>
<g class="ny" id="n2q"><circle cx="425" cy="886" r="4.2"/><text x="425" y="888">3</text></g>
<g class="ny" id="n2r"><circle cx="315" cy="907" r="4.2"/><text x="315" y="909">4</text></g>
<g class="nb" id="n2s"><circle cx="438" cy="902" r="4.2"/><text x="438" y="904">6</text></g>
<g class="nr" id="n2t"><circle cx="451" cy="886" r="4.2"/><text x="451" y="888" letter-spacing="-0.5">11</text></g>
<g class="ny" id="n2u"><circle cx="478" cy="886" r="4.2"/><text x="478" y="888">4</text></g>
<g class="ny" id="n2v"><circle cx="489" cy="886" r="4.2"/><text x="489" y="888">2</text></g>
<g class="ny" id="n2w"><circle cx="500" cy="886" r="4.2"/><text x="500" y="888">2</text></g>
<g class="ny" id="n2x"><circle cx="511" cy="886" r="4.2"/><text x="511" y="888">4</text></g>
<g class="nr" id="n2y"><circle cx="537" cy="886" r="4.2"/><text x="537" y="888" letter-spacing="-0.5">18</text></g>
<g class="ny" id="n2z"><circle cx="550" cy="873" r="4.2"/><text x="550" y="875">9</text></g>
<g class="nr" id="n2aa"><circle cx="550" cy="862" r="4.2"/><text x="550" y="864" letter-spacing="-0.5">10</text></g>
<g class="ny" id="n2ab"><circle cx="550" cy="851" r="4.2"/><text x="550" y="853" letter-spacing="-0.5">10</text></g>
<g class="ny" id="n2ac"><circle cx="550" cy="822" r="4.2"/><text x="550" y="824">2</text></g>
</g>
</svg>
